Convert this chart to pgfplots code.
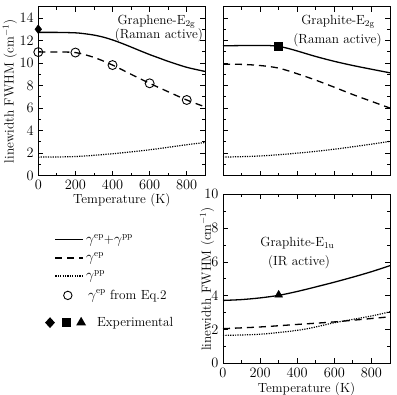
\documentclass[border=0pt]{standalone}
\usepackage{pgfplots}
\pgfplotsset{compat=1.18}
\usetikzlibrary{shapes.geometric}
\newcommand{\fs}{\fontsize{13.3}{15.5}\selectfont}
\begin{document}
\fs
\begin{tikzpicture}
\useasboundingbox (0,0) rectangle (397bp,395bp);
\pgfplotsset{
  panel/.style={
    scale only axis, width=167bp, height=169bp, anchor=south west,
    xmin=0, xmax=900, xtick={0,200,...,800}, minor x tick num=1,
    minor y tick num=1,
    tick align=inside, major tick length=5bp, minor tick length=3bp,
    tick style={black, line width=0.8pt}, axis line style={line width=0.9pt},
    every tick label/.append style={font=\fs},
    label style={font=\fs},
    clip=false,
  },
  tot/.style={black, line width=1.3pt, smooth},
  ep/.style={black, line width=1.3pt, dash pattern=on 7bp off 5bp, smooth},
  pp/.style={black, line width=1.2pt, dash pattern=on 1.2bp off 1.2bp, smooth},
}

% Graphene E2g
\begin{axis}[panel, at={(38.3bp,219.3bp)}, ymin=0, ymax=15, ytick={0,2,...,14},
  ylabel={linewidth FWHM (cm$^{\mathrm{-1}}$)},
  ylabel style={at={(axis description cs:-0.17,0.5)}, anchor=center},
  xlabel={Temperature (K)},
  xlabel style={at={(axis description cs:0.5,-0.145)}, anchor=center},
  legend style={at={(0.08,-0.322)}, anchor=north west, draw=none, fill=none,
    font=\fs, row sep=3bp, cells={anchor=west}}]
\addplot[tot, forget plot] coordinates {(0,12.72) (100,12.72) (200,12.68) (250,12.6) (300,12.48) (350,12.3) (400,12.05) (450,11.75) (500,11.42) (550,11.08) (600,10.75) (650,10.45) (700,10.15) (800,9.62) (900,9.25)};
\addplot[ep, forget plot] coordinates {(0,10.97) (100,10.97) (200,10.93) (300,10.5) (400,9.82) (500,9.0) (600,8.2) (700,7.45) (800,6.72) (900,6.1)};
\addplot[pp, forget plot] coordinates {(0,1.65) (200,1.7) (400,1.95) (600,2.3) (800,2.75) (900,2.95)};
\addplot[only marks, mark=o, mark size=4.5pt, mark options={fill=white, line width=0.9pt}, forget plot] coordinates {(0,10.97) (200,10.93) (400,9.82) (600,8.2) (800,6.72)};
\addplot[only marks, mark=diamond*, mark size=4.5pt, black, forget plot] coordinates {(0,13.0)};
\node at (axis cs:637,13.66) {Graphene-E$_{\mathrm{2g}}$};
\node at (axis cs:650,12.45) {(Raman active)};
\addlegendimage{legend image code/.code={\draw[black, line width=1.3pt] (0bp,0bp) -- (28bp,0bp);}}
\addlegendentry{$\gamma^{\mathrm{ep}}$+$\gamma^{\mathrm{pp}}$}
\addlegendimage{legend image code/.code={\draw[black, line width=1.3pt, dash pattern=on 7bp off 5bp] (0bp,0bp) -- (28bp,0bp);}}
\addlegendentry{$\gamma^{\mathrm{ep}}$}
\addlegendimage{legend image code/.code={\draw[black, line width=1.2pt, dash pattern=on 1.2bp off 1.2bp] (0bp,0bp) -- (28bp,0bp);}}
\addlegendentry{$\gamma^{\mathrm{pp}}$}
\end{axis}

% Graphite E2g
\begin{axis}[panel, at={(223bp,219.3bp)}, ymin=0, ymax=15, ytick={0,2,...,14},
  xticklabels={}, yticklabels={}]
\addplot[tot] coordinates {(0,11.53) (100,11.55) (200,11.56) (250,11.55) (300,11.48) (350,11.3) (400,11.07) (500,10.58) (600,10.15) (700,9.78) (800,9.45) (900,9.13)};
\addplot[ep] coordinates {(0,9.9) (100,9.88) (200,9.78) (300,9.55) (400,9.05) (500,8.48) (600,7.85) (700,7.2) (800,6.6) (900,6.0)};
\addplot[pp] coordinates {(0,1.65) (200,1.75) (400,2.0) (600,2.35) (800,2.8) (900,3.05)};
\addplot[only marks, mark=square*, mark size=4pt, black] coordinates {(300,11.53)};
\node at (axis cs:620,13.7) {Graphite-E$_{\mathrm{2g}}$};
\node at (axis cs:617,12.06) {(Raman active)};
\end{axis}

% Graphite E1u
\begin{axis}[panel, at={(223bp,31.7bp)}, ymin=0, ymax=10, ytick={0,2,...,10},
  ylabel={linewidth FWHM (cm$^{\mathrm{-1}}$)},
  ylabel style={at={(axis description cs:-0.095,0.5)}, anchor=center},
  xlabel={Temperature (K)},
  xlabel style={at={(axis description cs:0.5,-0.153)}, anchor=center},
  legend style={at={(-1.116,0.46)}, anchor=north west, draw=none, fill=none,
    font=\fs, row sep=12bp, cells={anchor=west}}]
\addplot[tot, forget plot] coordinates {(0,3.72) (100,3.77) (200,3.87) (300,4.02) (400,4.25) (500,4.52) (600,4.8) (700,5.1) (800,5.42) (900,5.78)};
\addplot[ep, forget plot] coordinates {(0,2.05) (200,2.15) (400,2.3) (600,2.45) (800,2.65) (900,2.75)};
\addplot[pp, forget plot] coordinates {(0,1.65) (200,1.72) (400,1.95) (500,2.15) (600,2.4) (800,2.8) (900,3.05)};
\addplot[only marks, mark=triangle*, mark size=4.5pt, black, forget plot] coordinates {(300,4.05)};
\node at (axis cs:401,7.1) {Graphite-E$_{\mathrm{1u}}$};
\node at (axis cs:410,5.98) {(IR active)};
\addlegendimage{legend image code/.code={
  \path[draw=none, fill=none] (-15bp,0bp) -- (28bp,0bp);
  \draw[black, line width=0.9pt] (13bp,0bp) circle (4.2bp);}}
\addlegendentry{$\gamma^{\mathrm{ep}}$ from Eq.2}
\addlegendimage{legend image code/.code={
  \path[draw=none, fill=none] (-15bp,0bp) -- (28bp,0bp);
  \node[diamond, fill=black, inner sep=0pt, minimum width=10bp, minimum height=11bp] at (-10bp,0bp) {};
  \node[rectangle, fill=black, inner sep=0pt, minimum size=8.5bp] at (7bp,0bp) {};
  \node[isosceles triangle, isosceles triangle apex angle=60, shape border rotate=90, fill=black, inner sep=0pt, minimum height=8.5bp] at (23bp,0.5bp) {};}}
\addlegendentry{\hspace{9bp}Experimental}
\end{axis}
\end{tikzpicture}
\end{document}
